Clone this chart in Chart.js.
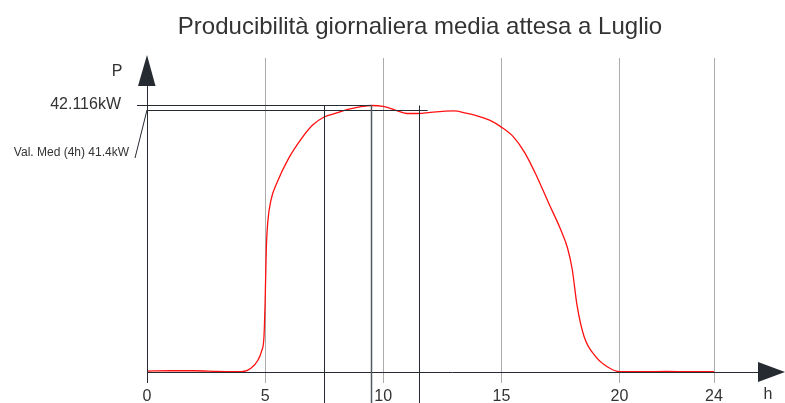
<!DOCTYPE html>
<html lang="it">
<head>
  <meta charset="UTF-8">
  <title>Producibilità giornaliera media attesa a Luglio</title>
  <script src="https://cdn.jsdelivr.net/npm/chart.js"></script>
  <style>
    body {
      margin: 0;
      background: #fff;
    }
  </style>
</head>
<body>
  <canvas id="prodChart" width="785" height="403"></canvas>

  <script>
    // hours of the day and expected power (kW)
    const hours = [0, 1, 2, 3, 4, 4.4, 4.7, 4.85, 4.95, 5, 5.05, 5.12, 5.25, 5.5, 6, 6.5, 7, 7.5, 8, 8.5, 9, 9.5,
      10, 10.5, 11, 11.5, 12, 13, 13.5, 14, 14.5, 15, 15.5, 16, 16.5, 17, 17.5, 17.8, 18, 18.2,
      18.5, 19, 19.5, 20, 21, 22, 23, 24];
    const power = [0.15, 0.2, 0.2, 0.1, 0.05, 0.6, 1.9, 3.3, 5.5, 11, 19.5, 24, 27.2, 29.9, 33.8, 36.7, 39.0, 40.3, 40.9, 41.5, 41.9, 42.116,
      41.96, 41.4, 40.85, 40.85, 41.04, 41.25, 40.9, 40.45, 39.8, 38.7, 37.2, 34.6, 30.9, 26.7, 22.6, 19.6, 16.2, 10.6,
      5.6, 2.4, 0.8, 0.05, 0.05, 0.08, 0.05, 0.05];
    const xTicks = [0, 5, 10, 15, 20, 24];

    const peakValue = 42.116;
    const peakHour = 9.5;
    const avgValue = 41.4;
    const avgStart = 7.5;
    const avgEnd = 11.5;

    const titleText = "Producibilità giornaliera media attesa a Luglio";
    const FONT = "'Liberation Sans', Arial, sans-serif";
    const DARK = "#262a31";

    // extra drawing: arrows, labels, peak and average lines
    const decoPlugin = {
      id: "deco",
      afterDraw(chart) {
        const { ctx, scales: { x, y } } = chart;
        const x0 = x.getPixelForValue(0);
        const y0 = y.getPixelForValue(0);
        const yPeak = y.getPixelForValue(peakValue);
        const yAvg = y.getPixelForValue(avgValue);
        ctx.save();

        // title
        ctx.fillStyle = "#333";
        ctx.font = "24px " + FONT;
        ctx.textAlign = "center";
        ctx.textBaseline = "middle";
        ctx.fillText(titleText, 420, 27);

        ctx.strokeStyle = DARK;
        ctx.fillStyle = DARK;
        ctx.lineWidth = 1;

        // x axis line + arrow
        ctx.beginPath();
        ctx.moveTo(x0, Math.round(y0) + 0.5);
        ctx.lineTo(758, Math.round(y0) + 0.5);
        ctx.stroke();
        ctx.beginPath();
        ctx.moveTo(785, y0);
        ctx.lineTo(758, y0 - 10);
        ctx.lineTo(758, y0 + 10);
        ctx.closePath();
        ctx.fill();

        // y axis arrow
        ctx.beginPath();
        ctx.moveTo(x0, 55);
        ctx.lineTo(x0 - 9, 86);
        ctx.lineTo(x0 + 8.5, 86);
        ctx.closePath();
        ctx.fill();
        ctx.beginPath();
        ctx.moveTo(Math.round(x0) + 0.5, 84);
        ctx.lineTo(Math.round(x0) + 0.5, y0);
        ctx.stroke();

        // peak line and average line
        const hp = Math.round(yPeak) + 0.5;
        const ha = Math.round(yAvg) + 0.5;
        ctx.beginPath();
        ctx.moveTo(x0 - 10, hp);
        ctx.lineTo(x.getPixelForValue(peakHour), hp);
        ctx.moveTo(x0, ha);
        ctx.lineTo(x.getPixelForValue(avgEnd) + 9, ha);
        ctx.stroke();

        // vertical markers (window start, peak, window end)
        [avgStart, peakHour, avgEnd].forEach((h, i) => {
          const px = Math.round(x.getPixelForValue(h)) + 0.5;
          ctx.strokeStyle = i === 1 ? "#555a61" : DARK;
          ctx.lineWidth = i === 1 ? 1.5 : 1;
          ctx.beginPath();
          ctx.moveTo(px, hp);
          ctx.lineTo(px, chart.height);
          ctx.stroke();
        });
        ctx.strokeStyle = DARK;
        ctx.lineWidth = 1;

        // leader line to average label
        ctx.beginPath();
        ctx.moveTo(x0, yAvg);
        ctx.lineTo(135, 158);
        ctx.stroke();

        // texts
        ctx.fillStyle = "#333";
        ctx.textAlign = "right";
        ctx.font = "16px " + FONT;
        ctx.fillText(peakValue + "kW", 121, yPeak - 1);
        ctx.font = "12px " + FONT;
        ctx.fillText("Val. Med (4h) " + avgValue + "kW", 129, 153);
        ctx.textAlign = "center";
        ctx.font = "16px " + FONT;
        ctx.fillText("P", 117, 72);
        ctx.fillText("h", 768, 395);

        ctx.restore();
      }
    };

    new Chart(document.getElementById("prodChart"), {
      type: "line",
      data: {
        datasets: [{
          data: hours.map((h, i) => ({ x: h, y: power[i] })),
          borderColor: "#ff1010",
          borderWidth: 1.3,
          pointRadius: 0,
          fill: false,
          cubicInterpolationMode: "monotone"
        }]
      },
      options: {
        responsive: false,
        animation: false,
        devicePixelRatio: 1,
        layout: { padding: { left: 147, right: 71, top: 58, bottom: 0 } },
        plugins: {
          legend: { display: false },
          title: { display: false },
          tooltip: { enabled: false }
        },
        scales: {
          x: {
            type: "linear",
            min: 0,
            max: 24,
            afterBuildTicks: s => { s.ticks = xTicks.map(v => ({ value: v })); },
            afterFit: s => { s.height = 31; },
            border: { display: false },
            grid: {
              color: c => (c.tick && c.tick.value === 0 ? DARK : "#ababab"),
              lineWidth: 1,
              tickLength: 11
            },
            ticks: {
              color: "#333",
              font: { family: FONT, size: 16 },
              padding: 4,
              maxRotation: 0,
              autoSkip: false
            }
          },
          y: {
            display: false,
            min: 0,
            max: 49.62
          }
        }
      },
      plugins: [decoPlugin]
    });
  </script>
</body>
</html>
